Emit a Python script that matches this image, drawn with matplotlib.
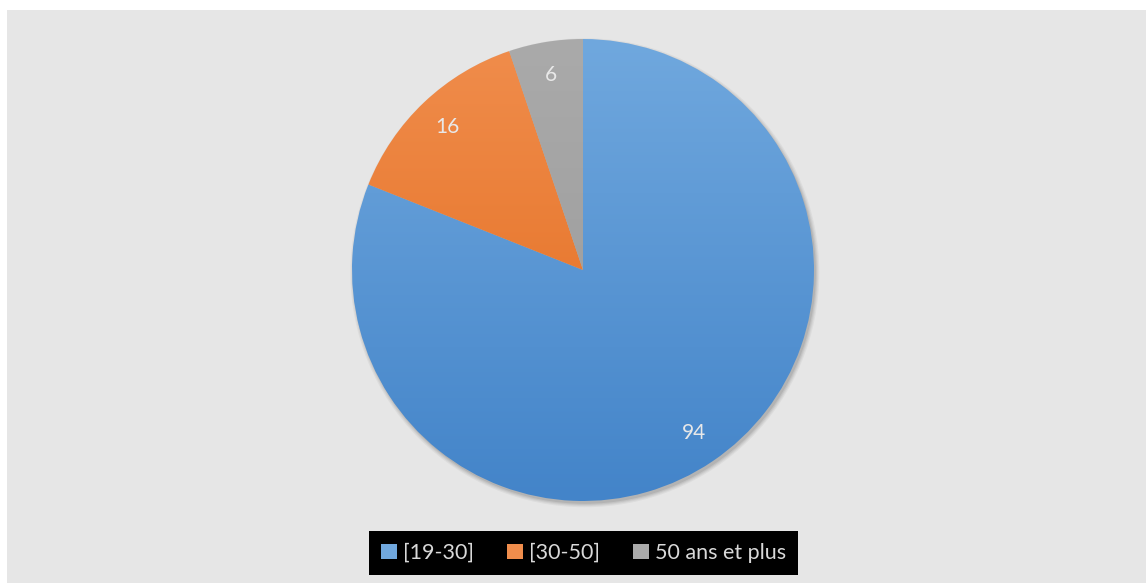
import matplotlib.pyplot as plt
import numpy as np
from matplotlib.colors import LinearSegmentedColormap
from matplotlib.patches import Rectangle, Circle, Patch

labels = ['[19-30]', '[30-50]', '50 ans et plus']
values = [94, 16, 6]
top_colors = ['#70a8de', '#f08d4c', '#aaaaaa']
bottom_colors = ['#4384c9', '#e2691a', '#989898']

plt.rcParams['font.family'] = ['Lato', 'DejaVu Sans']

W, H = 1146, 583
fig = plt.figure(figsize=(W / 100, H / 100), dpi=100, facecolor='white')

# gray panel behind everything
fig.patches.append(Rectangle((7 / W, 0.5 / H), 1, (H - 10.5) / H,
                             transform=fig.transFigure, facecolor='#e6e6e6',
                             edgecolor='none', zorder=-10))

cx, cy, r = 583, 270, 231
ax = fig.add_axes([(cx - r) / W, (H - cy - r) / H, 2 * r / W, 2 * r / H])
ax.set_zorder(1)

# soft shadow under the pie
for k, a in zip([3, 2, 1, 0], [0.06, 0.07, 0.09, 0.12]):
    ax.add_patch(Circle((0.008, -0.012), 1.0 + 0.005 * k, color='#404040',
                        alpha=a, lw=0, zorder=0, clip_on=False))

total = sum(values)
wedges, texts, autotexts = ax.pie(
    values, startangle=90, counterclock=False, radius=1.0,
    autopct=lambda p: f"{round(p * total / 100)}", pctdistance=0.855,
    wedgeprops=dict(linewidth=0),
    textprops=dict(color='#e8e8e8', fontsize=15))

# vertical gradient fill for each wedge
grad = np.linspace(0, 1, 256).reshape(-1, 1)
for w, c0, c1 in zip(wedges, top_colors, bottom_colors):
    w.set_facecolor('none')
    cmap = LinearSegmentedColormap.from_list('g', [c0, c1])
    im = ax.imshow(grad, cmap=cmap, extent=(-1, 1, -1, 1), origin='upper',
                   aspect='auto', zorder=1)
    im.set_clip_path(w)
for t in autotexts:
    t.set_zorder(3)

ax.set_xlim(-1.0, 1.0)
ax.set_ylim(-1.0, 1.0)
ax.set_aspect('equal')
ax.axis('off')

handles = [Patch(facecolor=c, edgecolor='none') for c in top_colors]
leg = fig.legend(handles, labels, loc='center', ncol=3,
                 bbox_to_anchor=(583.5 / W, (H - 553) / H),
                 frameon=True, facecolor='black', edgecolor='black',
                 fancybox=False, fontsize=15.5, labelcolor='#d9d9d9',
                 handlelength=0.75, handleheight=0.75, handletextpad=0.25,
                 columnspacing=1.55, borderpad=0.55, framealpha=1)
leg.get_frame().set_linewidth(0)

fig.savefig('out.png', dpi=100, facecolor='white')
